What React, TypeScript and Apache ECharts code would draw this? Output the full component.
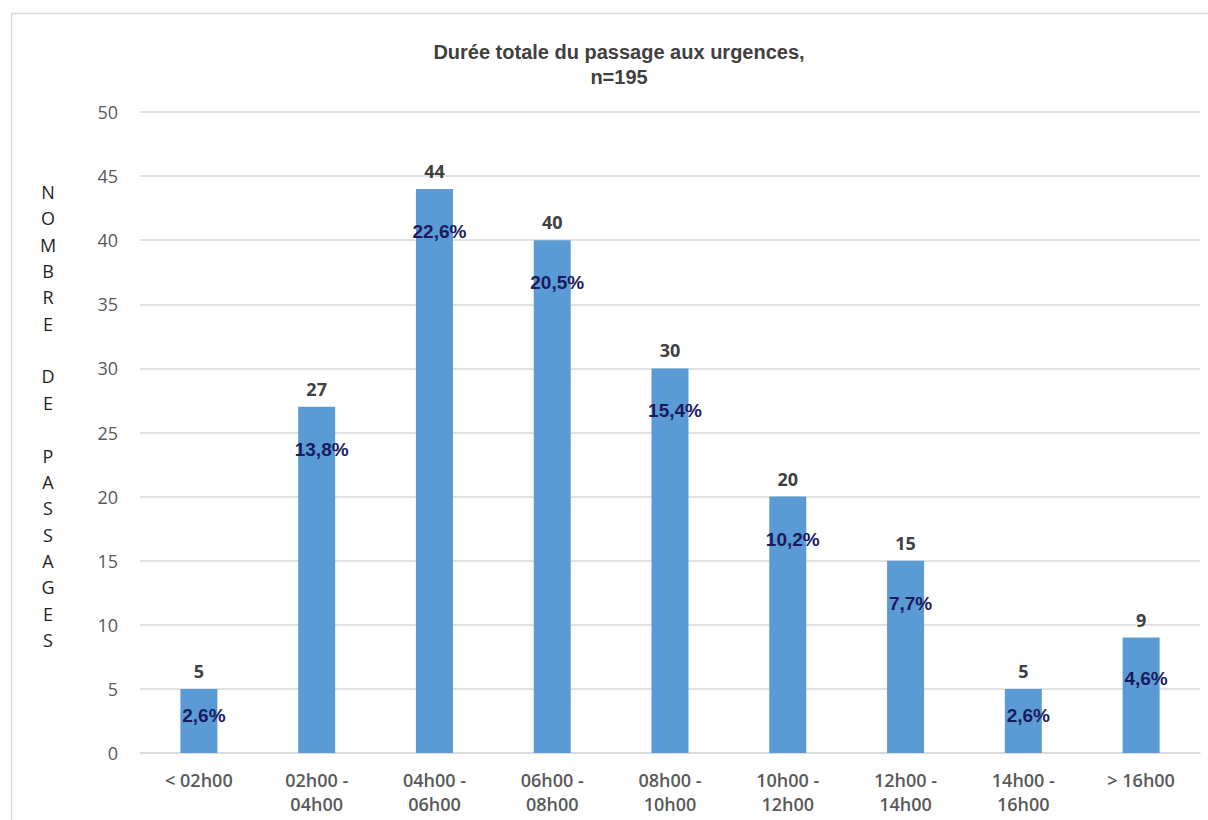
import React, { useEffect, useRef } from "react";
import * as echarts from "echarts";

const categories = [
  "< 02h00",
  "02h00 -\n04h00",
  "04h00 -\n06h00",
  "06h00 -\n08h00",
  "08h00 -\n10h00",
  "10h00 -\n12h00",
  "12h00 -\n14h00",
  "14h00 -\n16h00",
  "> 16h00",
];
const counts = [5, 27, 44, 40, 30, 20, 15, 5, 9];
const percents = ["2,6%", "13,8%", "22,6%", "20,5%", "15,4%", "10,2%", "7,7%", "2,6%", "4,6%"];
const titleLines = ["Durée totale du passage aux urgences,", "n=195"];
const yAxisName = "NOMBRE DE PASSAGES";
const yMin = 0;
const yMax = 50;
const yInterval = 5;

export default function App() {
  const ref = useRef<HTMLDivElement>(null);
  useEffect(() => {
    document.body.style.margin = "0";
    const chart = echarts.init(ref.current!, undefined, { renderer: "svg" });
    const verticalName = yAxisName.split("").join("\n");
    const option = {
      animation: false,
      backgroundColor: "#ffffff",
      title: {
        text: titleLines[0] + "\n" + titleLines[1],
        left: 614,
        textAlign: "center",
        top: 34,
        textStyle: {
          fontFamily: "Liberation Sans",
          fontWeight: "bold",
          fontSize: 20,
          color: "#404040",
          lineHeight: 25,
        },
      },
      graphic: [
        {
          type: "rect",
          silent: true,
          shape: { x: 11.5, y: 13.5, width: 1300, height: 1000 },
          style: { fill: "none", stroke: "#d9d9d9", lineWidth: 1.5 },
        },
        {
          type: "text",
          x: 48,
          y: 416,
          style: {
            text: verticalName,
            fontFamily: "Open Sans",
            fontSize: 18,
            lineHeight: 26.35,
            fill: "#1f1f1f",
            align: "center",
            verticalAlign: "middle",
          },
        },
      ],
      grid: { left: 140, right: 8, top: 112, bottom: 67, containLabel: false },
      xAxis: {
        type: "category",
        data: categories,
        axisTick: { show: false },
        axisLine: { lineStyle: { color: "#d9d9d9", width: 1.5 } },
        axisLabel: {
          interval: 0,
          margin: 15,
          fontFamily: "Open Sans",
          fontWeight: 600,
          fontSize: 18,
          lineHeight: 24,
          color: "#595959",
        },
      },
      yAxis: {
        type: "value",
        min: yMin,
        max: yMax,
        interval: yInterval,
        axisLine: { show: false },
        axisTick: { show: false },
        splitLine: { lineStyle: { color: "#d9d9d9", width: 1.5 } },
        axisLabel: {
          margin: 22,
          fontFamily: "Open Sans",
          fontSize: 18,
          color: "#595959",
        },
      },
      series: [
        {
          type: "bar",
          data: counts,
          barWidth: 37,
          itemStyle: { color: "#5b9bd5" },
          label: {
            show: true,
            position: "top",
            distance: 9,
            fontFamily: "Open Sans",
            fontWeight: "bold",
            fontSize: 18,
            color: "#404040",
          },
          z: 2,
        },
        {
          type: "bar",
          data: counts.map((v) => ({
            value: v,
            label: { distance: Math.min(33, v * 12.82 * 0.27) },
          })),
          barWidth: 37,
          barGap: "-100%",
          itemStyle: { color: "rgba(0,0,0,0)" },
          label: {
            show: true,
            position: "insideTop",
            offset: [5, 0],
            formatter: (p: any) => percents[p.dataIndex],
            fontFamily: "Liberation Sans",
            fontWeight: "bold",
            fontSize: 19,
            color: "#1a1a5e",
          },
          z: 3,
        },
      ],
    };
    chart.setOption(option as any);
    return () => chart.dispose();
  }, []);
  return <div ref={ref} style={{ width: 1208, height: 820 }} />;
}
